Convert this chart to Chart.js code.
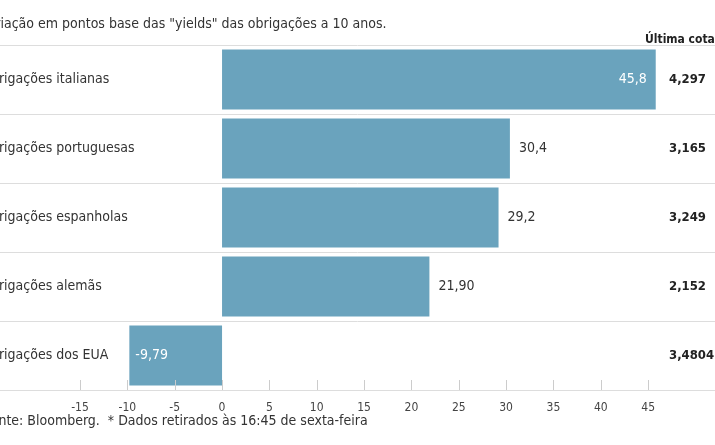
<!DOCTYPE html>
<html>
<head>
<meta charset="utf-8">
<script src="https://cdn.jsdelivr.net/npm/chart.js@4"></script>
<style>body{margin:0;background:#fff;overflow:hidden}</style>
</head>
<body>
<canvas id="chart" width="715" height="445"></canvas>
<script>
const categories = ['Obrigações italianas', 'Obrigações portuguesas', 'Obrigações espanholas', 'Obrigações alemãs', 'Obrigações dos EUA'];
const values = [45.8, 30.4, 29.2, 21.9, -9.79];
const valueLabels = ['45,8', '30,4', '29,2', '21,90', '-9,79'];
const lastQuotes = ['4,297', '3,165', '3,249', '2,152', '3,4804'];

const FONT = '"DejaVu Sans Condensed", "DejaVu Sans", sans-serif';

const overlay = {
    id: 'overlay',
    afterDraw(chart) {
        const c = chart.ctx;
        const x = chart.scales.x, y = chart.scales.y;
        const area = chart.chartArea;
        const band = (area.bottom - area.top) / categories.length;
        c.save();
        // row separators
        c.strokeStyle = '#dddddd';
        c.lineWidth = 1;
        for (let i = 0; i < categories.length; i++) {
            const yy = Math.round(area.top + i * band) + 0.5;
            c.beginPath(); c.moveTo(0, yy); c.lineTo(715, yy); c.stroke();
        }
        // tick marks above axis
        c.strokeStyle = '#cccccc';
        for (let v = -15; v <= 45; v += 5) {
            const px = Math.round(x.getPixelForValue(v)) + 0.5;
            c.beginPath(); c.moveTo(px, area.bottom - 10); c.lineTo(px, area.bottom); c.stroke();
        }
        c.textBaseline = 'middle';
        const meta = chart.getDatasetMeta(0);
        categories.forEach((cat, i) => {
            const cy = y.getPixelForValue(i);
            c.font = '14px ' + FONT;
            c.fillStyle = '#333';
            c.textAlign = 'left';
            c.fillText(cat, -19, cy);
            const bar = meta.data[i];
            const v = values[i];
            if (i === 0) {
                c.fillStyle = '#fff'; c.textAlign = 'right';
                c.fillText(valueLabels[i], bar.x - 9, cy);
            } else if (v < 0) {
                c.fillStyle = '#fff'; c.textAlign = 'left';
                c.fillText(valueLabels[i], bar.x + 6, cy);
            } else {
                c.fillStyle = '#333'; c.textAlign = 'left';
                c.fillText(valueLabels[i], bar.x + 9, cy);
            }
            c.font = 'bold 13px ' + FONT;
            c.fillStyle = '#222';
            c.textAlign = 'left';
            c.fillText(lastQuotes[i], 669, cy);
        });
        c.font = '14px ' + FONT;
        c.fillStyle = '#333';
        c.textAlign = 'left';
        c.fillText('Variação em pontos base das "yields" das obrigações a 10 anos.', -20, 24);
        c.font = 'bold 12px ' + FONT;
        c.fillStyle = '#222';
        c.fillText('Última cotação*', 645, 40);
        c.font = '14px ' + FONT;
        c.fillStyle = '#333';
        c.fillText('Fonte: Bloomberg.  * Dados retirados às 16:45 de sexta-feira', -16, 421);
        c.restore();
    }
};

new Chart(document.getElementById('chart'), {
    type: 'bar',
    data: {
        labels: categories,
        datasets: [{
            data: values,
            backgroundColor: '#6aa3bd',
            barPercentage: 0.87,
            categoryPercentage: 1
        }]
    },
    options: {
        indexAxis: 'y',
        responsive: false,
        animation: false,
        layout: { padding: { top: 45, left: 0, right: 0, bottom: 0 } },
        plugins: { legend: { display: false }, tooltip: { enabled: false } },
        scales: {
            x: {
                min: -23.45,
                max: 52.06,
                afterBuildTicks(axis) {
                    const t = [];
                    for (let v = -15; v <= 45; v += 5) t.push({ value: v });
                    axis.ticks = t;
                },
                grid: { display: false },
                border: { display: true, color: '#dddddd' },
                ticks: { color: '#444', font: { family: FONT, size: 12 }, padding: 3, maxRotation: 0, autoSkip: false },
                afterFit(axis) { axis.height = 55; }
            },
            y: { display: false }
        }
    },
    plugins: [overlay]
});
</script>
</body>
</html>
